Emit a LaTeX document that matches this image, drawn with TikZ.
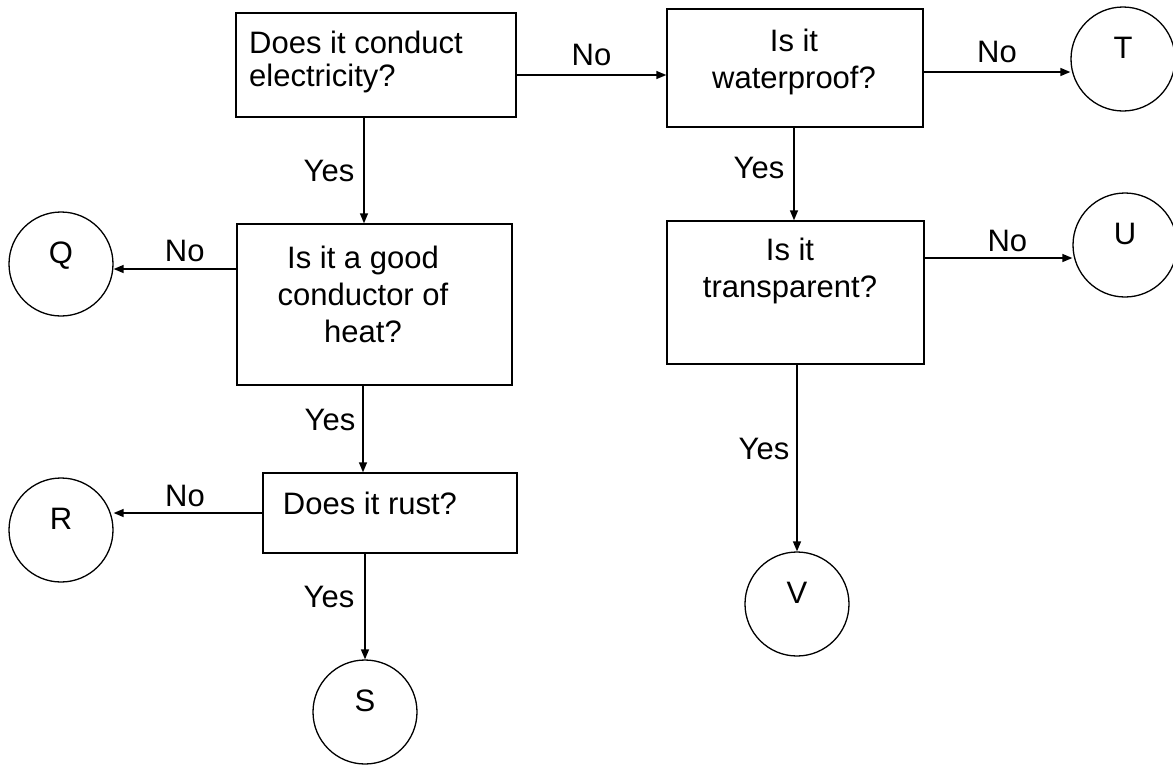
\documentclass[tikz,border=0pt]{standalone}
\usepackage{fontspec}
\setmainfont{Liberation Sans}
\usetikzlibrary{arrows.meta}

\begin{document}
\begin{tikzpicture}[x=1pt, y=-1pt,
    every node/.append style={font=\fontsize{31}{37}\selectfont},
    qbox/.style={draw, line width=1.4pt, inner sep=0pt},
    qtext/.style={inner sep=0pt, align=center},
    leaf/.style={draw, circle, line width=1.3pt, minimum size=104pt, inner sep=0pt,
                 text height=22pt, text depth=23pt},
    link/.style={line width=1.4pt, -{Triangle[length=10pt, width=8pt]}},
    ans/.style={inner sep=3pt}]

    \useasboundingbox (0,0) rectangle (1173,764);

    % questions
    \node[qbox, minimum width=280, minimum height=104] (cond) at (376,65) {};
    \node[qtext, align=left, anchor=west, font=\fontsize{31}{33}\selectfont] (condt) at (249,62) {Does it conduct\\electricity?};
    \node[qbox, minimum width=256, minimum height=118] (water) at (795,68) {};
    \node[qtext] (watert) at (794,62) {Is it\\waterproof?};
    \node[qbox, minimum width=275, minimum height=161] (heat) at (374.5,304.5) {};
    \node[qtext] (heatt) at (363,294) {Is it a good\\conductor of\\heat?};
    \node[qbox, minimum width=257, minimum height=143] (trans) at (795.5,292.5) {};
    \node[qtext] (transt) at (790,271) {Is it\\transparent?};
    \node[qbox, minimum width=254, minimum height=80] (rust) at (390,513) {};
    \node[qtext] (rustt) at (370,503) {Does it rust?};

    % answers
    \node[leaf] (Q) at (61,264) {Q};
    \node[leaf] (R) at (61,530) {R};
    \node[leaf] (S) at (365,712) {S};
    \node[leaf] (T) at (1123,59) {T};
    \node[leaf] (U) at (1125,245) {U};
    \node[leaf] (V) at (797,604) {V};

    % left column
    \draw[link] (cond.east |- 0,75) -- node[ans, above=6pt] (no1) {No} (water.west |- 0,75);
    \draw[link] (cond.south -| 364,0) -- node[ans, left=6pt] (yes1) {Yes} (heat.north -| 364,0);
    \draw[link] (heat.west |- 0,269) -- node[ans, above=4pt, pos=0.42] (no2) {No} (Q.east |- 0,269);
    \draw[link] (heat.south -| 363,0) -- node[ans, left=4pt, pos=0.4] (yes2) {Yes} (rust.north -| 363,0);
    \draw[link] (rust.west |- 0,513) -- node[ans, above=3pt, pos=0.52] (no3) {No} (R.east |- 0,513);
    \draw[link] (rust.south -| 365,0) -- node[ans, left=7pt, pos=0.41] (yes3) {Yes} (S.north);

    % right column
    \draw[link] (water.east |- 0,72) -- node[ans, above=6pt, pos=0.5] (no4) {No} (T.west |- 0,72);
    \draw[link] (water.south -| 794,0) -- node[ans, left=6pt, pos=0.43] (yes4) {Yes} (trans.north -| 794,0);
    \draw[link] (trans.east |- 0,258) -- node[ans, above=3pt, pos=0.56] (no5) {No} (U.west |- 0,258);
    \draw[link] (trans.south -| 797,0) -- node[ans, left=4pt, pos=0.45] (yes5) {Yes} (V.north);

\end{tikzpicture}
\end{document}
